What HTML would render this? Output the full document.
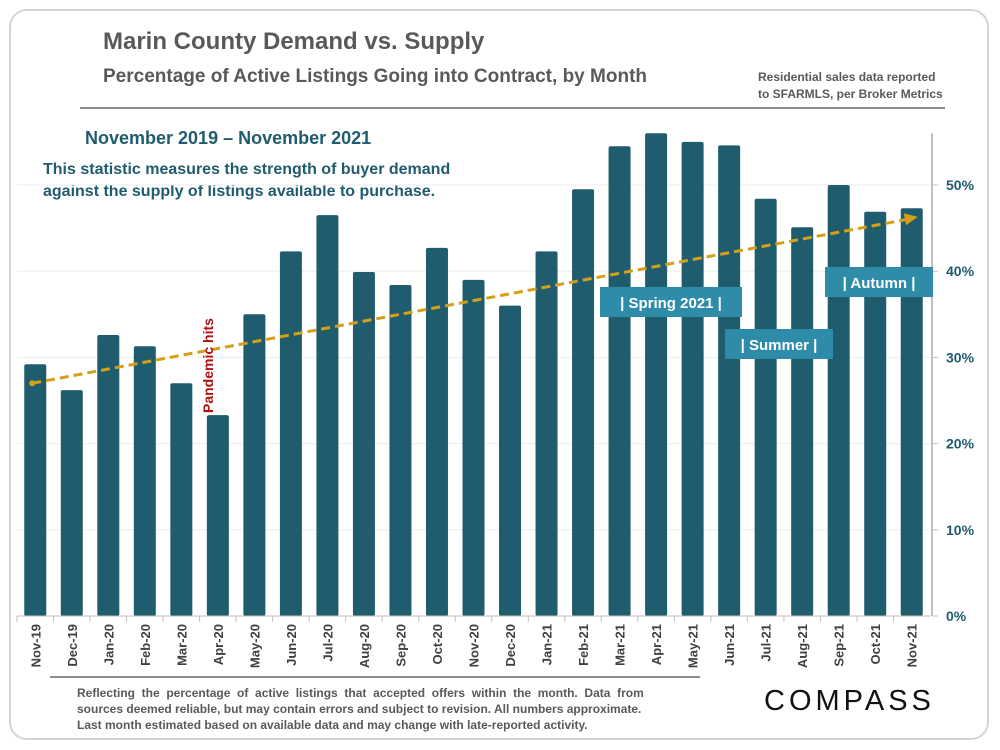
<!DOCTYPE html>
<html><head><meta charset="utf-8">
<style>
body{margin:0;width:1000px;height:750px;background:#fff;font-family:"Liberation Sans",sans-serif;overflow:hidden}
#panel{position:absolute;left:9px;top:9px;width:980px;height:731px;border:2px solid #d4d4d4;border-radius:18px;box-sizing:border-box}
.t{position:absolute;white-space:nowrap}
</style></head><body>
<div id="panel"></div>
<div class="t" style="left:103px;top:28px;font-size:24px;font-weight:bold;color:#595959">Marin County Demand vs. Supply</div>
<div class="t" style="left:103px;top:66px;font-size:19px;font-weight:bold;color:#595959">Percentage of Active Listings Going into Contract, by Month</div>
<div class="t" style="left:758px;top:69px;font-size:12px;font-weight:bold;color:#595959;line-height:17px">Residential sales data reported<br>to SFARMLS, per Broker Metrics</div>
<div style="position:absolute;left:80px;top:107px;width:865px;height:2px;background:#8c8c8c"></div>
<div class="t" style="left:85px;top:128px;font-size:18px;font-weight:bold;color:#1f5c6e">November 2019 – November 2021</div>
<div class="t" style="left:43px;top:159px;font-size:16px;font-weight:bold;color:#1f5c6e;line-height:22px">This statistic measures the strength of buyer demand<br>against the supply of listings available to purchase.</div>
<svg id="chart" width="1000" height="750" style="position:absolute;left:0;top:0"></svg>
<div style="position:absolute;left:50px;top:676px;width:650px;height:2px;background:#8c8c8c"></div>
<div class="t" style="left:77px;top:685px;font-size:12px;font-weight:bold;color:#595959;line-height:16px">Reflecting&nbsp; the&nbsp; percentage&nbsp; of&nbsp; active&nbsp; listings&nbsp; that&nbsp; accepted&nbsp; offers&nbsp; within&nbsp; the&nbsp; month.&nbsp; Data&nbsp; from<br>sources deemed reliable, but may contain errors and subject to revision. All numbers approximate.<br>Last month estimated based on available data and may change with late-reported activity.</div>
<div class="t" style="left:764px;top:685px;font-size:29px;letter-spacing:4px;color:#111">COMPASS</div>
<script>
const categories=["Nov-19","Dec-19","Jan-20","Feb-20","Mar-20","Apr-20","May-20","Jun-20","Jul-20","Aug-20","Sep-20","Oct-20","Nov-20","Dec-20","Jan-21","Feb-21","Mar-21","Apr-21","May-21","Jun-21","Jul-21","Aug-21","Sep-21","Oct-21","Nov-21"];
const values=[29.2,26.2,32.6,31.3,27.0,23.3,35.0,42.3,46.5,39.9,38.4,42.7,39.0,36.0,42.3,49.5,54.5,56.0,55.0,54.6,48.4,45.1,50.0,46.9,47.3];
const yTicks=[0,10,20,30,40,50];
const trendStart=27.0, trendEnd=46.3;
const NS="http://www.w3.org/2000/svg";
const svg=document.getElementById('chart');
const x0=17,x1=930,y0=616,pxPer=8.62,yMax=56;
const band=(x1-x0)/categories.length;
const xc=i=>x0+band*(i+0.5);
const y=v=>y0-v*pxPer;
function mk(t,a){const e=document.createElementNS(NS,t);for(const k in a)e.setAttribute(k,a[k]);svg.appendChild(e);return e;}
yTicks.forEach(v=>{
  if(v>0){const g=mk('line',{x1:x0,x2:x1,y1:y(v),y2:y(v),stroke:'#eeeeee','stroke-width':1});
  
  }
  const tk=mk('line',{x1:x1+2,x2:x1+8,y1:y(v),y2:y(v),stroke:'#bfbfbf'});
  
  
  const t=mk('text',{x:x1+16,y:y(v)+5,'font-size':14,'font-weight':'bold',fill:'#1f5c6e','font-family':'Liberation Sans'});
  t.textContent=v+'%';
  
  
});
const ax=mk('line',{x1:x1+2,x2:x1+2,y1:y0,y2:y(yMax),stroke:'#bfbfbf','stroke-width':2});


categories.forEach((c,i)=>{
  const b=mk('rect',{x:xc(i)-11,y:y(values[i]),width:22,height:values[i]*pxPer,fill:'#1f5c6e',rx:2});
  
  
  const tk=mk('line',{x1:x0+band*i,x2:x0+band*i,y1:y0,y2:y0+6,stroke:'#bfbfbf'});
  
  
  const t=mk('text',{x:0,y:0,'font-size':13,'font-weight':'bold',fill:'#404040','font-family':'Liberation Sans','text-anchor':'end',transform:`translate(${xc(i)+5},${y0+8}) rotate(-90)`});
  t.textContent=c;
  
  
});
const xa=mk('line',{x1:x0,x2:x1,y1:y0,y2:y0,stroke:'#bfbfbf'});


const tx1=xc(0)-3,ty1=y(trendStart),tx2=xc(24)+6,ty2=y(trendEnd);
const tl=mk('line',{x1:tx1,y1:ty1,x2:tx2-8,y2:ty2+2,stroke:'#d4a017','stroke-width':3,'stroke-dasharray':'9,5'});


const ang=Math.atan2(ty2-ty1,tx2-tx1);
const ah=mk('polygon',{points:`0,0 -13,-6 -13,6`,fill:'#d4a017',transform:`translate(${tx2},${ty2}) rotate(${ang*180/Math.PI})`});


mk('circle',{cx:tx1,cy:ty1,r:3,fill:'#d4a017'});
const ph=mk('text',{x:0,y:0,'font-size':14,'font-weight':'bold',fill:'#b01010','font-family':'Liberation Sans',transform:`translate(213,413) rotate(-90)`});
ph.textContent='Pandemic hits';


[['| Spring 2021 |',600,287,142,30,'spring-label'],['| Summer |',725,329,108,30,'summer-label'],['| Autumn |',825,267,108,30,'autumn-label']].forEach(l=>{
  const r=mk('rect',{x:l[1],y:l[2],width:l[3],height:l[4],fill:'#2e8ca8'});
  
  
  const t=mk('text',{x:l[1]+l[3]/2,y:l[2]+21,'font-size':15,'font-weight':'bold',fill:'#fff','font-family':'Liberation Sans','text-anchor':'middle','xml:space':'preserve'});
  t.textContent=l[0];
  
  
});
</script>
</body></html>
